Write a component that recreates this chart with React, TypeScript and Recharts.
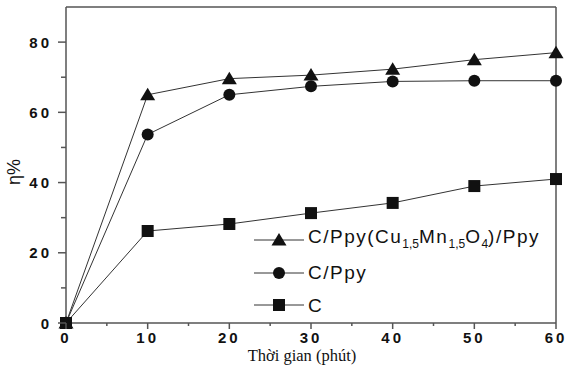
import React from 'react';
import { LineChart, Line, XAxis, YAxis, Legend, ReferenceLine } from 'recharts';

const times = [0, 10, 20, 30, 40, 50, 60];
const cppyCuMn = [0, 65, 69.6, 70.6, 72.3, 75, 77];
const cppy = [0, 53.7, 65, 67.4, 68.8, 69, 69];
const carbon = [0, 26.2, 28.2, 31.3, 34.2, 39, 41];

const xTicks = [0, 5, 10, 15, 20, 25, 30, 35, 40, 45, 50, 55, 60];
const yTicks = [0, 10, 20, 30, 40, 50, 60, 70, 80];

const data = times.map((t, i) => ({ t, a: cppyCuMn[i], b: cppy[i], c: carbon[i] }));

const AXIS = '#555';
const INK = '#111';
const tickFont = { fontFamily: '"Liberation Sans", Arial, sans-serif', fontWeight: 700, fontSize: 15, letterSpacing: 3, fill: INK };

const Tri = ({ cx, cy }: any) => (
  <polygon points={`${cx},${cy - 7} ${cx - 7.5},${cy + 5.5} ${cx + 7.5},${cy + 5.5}`} fill={INK} />
);
const Circ = ({ cx, cy }: any) => <circle cx={cx} cy={cy} r={6} fill={INK} />;
const Sq = ({ cx, cy }: any) => <rect x={cx - 6} y={cy - 6} width={12} height={12} fill={INK} />;

const XTick = (props: any) => {
  const { x, y, payload } = props;
  const major = payload.value % 10 === 0;
  return (
    <g>
      <line x1={x} x2={x} y1={y} y2={y + (major ? 6 : 3)} stroke={AXIS} strokeWidth={1.5} />
      {major && (
        <text x={x} y={y + 20} textAnchor="middle" style={tickFont as any}>
          {payload.value}
        </text>
      )}
    </g>
  );
};

const YTick = (props: any) => {
  const { x, y, payload } = props;
  const major = payload.value % 20 === 0;
  return (
    <g>
      <line x1={x} x2={x - (major ? 8 : 5)} y1={y} y2={y} stroke={AXIS} strokeWidth={1.5} />
      {major && (
        <text x={x - 14} y={y + 5.5} textAnchor="end" style={tickFont as any}>
          {payload.value}
        </text>
      )}
    </g>
  );
};

const subStyle = { fontSize: 12, letterSpacing: 0 };

const legendItems = [
  { key: 'a', Marker: Tri, label: (
    <span>C/Ppy(Cu<sub style={subStyle}>1,5</sub>Mn<sub style={subStyle}>1,5</sub>O<sub style={subStyle}>4</sub>)/Ppy</span>
  ) },
  { key: 'b', Marker: Circ, label: <span>C/Ppy</span> },
  { key: 'c', Marker: Sq, label: <span>C</span> },
];

const LegendContent = () => (
  <div style={{ fontFamily: '"Liberation Sans", Arial, sans-serif', fontSize: 19, letterSpacing: 1.5, color: INK }}>
    {legendItems.map(({ key, Marker, label }) => (
      <div key={key} style={{ display: 'flex', alignItems: 'center', height: 32.5, lineHeight: '19px' }}>
        <svg width={54} height={20} style={{ display: 'block' }}>
          <line x1={0} x2={50} y1={10} y2={10} stroke="#333" strokeWidth={1} />
          <Marker cx={25} cy={10} />
        </svg>
        {label}
      </div>
    ))}
  </div>
);

export default function App() {
  return (
    <div style={{ position: 'absolute', left: 0, top: 0, background: '#fff' }}>
      <LineChart width={584} height={377} data={data} margin={{ top: 7, right: 28, bottom: 0, left: 0 }}>
        <XAxis
          dataKey="t"
          type="number"
          domain={[0, 60]}
          ticks={xTicks}
          interval={0}
          tickLine={false}
          tickSize={0}
          tickMargin={0}
          tick={<XTick />}
          height={54}
          stroke={AXIS}
          strokeWidth={1.5}
          label={{
            content: (p: any) => {
              const vb = p.viewBox;
              return (
                <text x={vb.x + vb.width / 2 - 9} y={vb.y + 38} textAnchor="middle"
                  style={{ fontFamily: '"Liberation Serif", "Times New Roman", serif', fontSize: 16.5, fill: INK }}>
                  Thời gian (phút)
                </text>
              );
            },
          }}
        />
        <YAxis
          type="number"
          domain={[0, 90]}
          ticks={yTicks}
          interval={0}
          tickLine={false}
          tickSize={0}
          tickMargin={0}
          tick={<YTick />}
          width={66}
          stroke={AXIS}
          strokeWidth={1.5}
          label={{
            content: (p: any) => {
              const vb = p.viewBox;
              const cx = 14;
              const cy = vb.y + vb.height / 2 + 7;
              return (
                <text x={cx} y={cy} textAnchor="middle" dominantBaseline="central" transform={`rotate(-90 ${cx} ${cy})`}
                  style={{ fontFamily: '"Liberation Sans", Arial, sans-serif', fontSize: 18, fill: INK }}>
                  η%
                </text>
              );
            },
          }}
        />
        <ReferenceLine y={90} stroke={AXIS} strokeWidth={1.5} />
        <ReferenceLine x={60} stroke={AXIS} strokeWidth={1.5} />
        <Line dataKey="c" stroke="#333" strokeWidth={1} dot={<Sq />} activeDot={false} isAnimationActive={false} />
        <Line dataKey="b" stroke="#333" strokeWidth={1} dot={<Circ />} activeDot={false} isAnimationActive={false} />
        <Line dataKey="a" stroke="#333" strokeWidth={1} dot={<Tri />} activeDot={false} isAnimationActive={false} />
        <Legend
          layout="vertical"
          align="center"
          verticalAlign="middle"
          content={<LegendContent />}
          wrapperStyle={{ left: 254, top: 224, width: 'auto', height: 'auto' }}
        />
      </LineChart>
    </div>
  );
}
